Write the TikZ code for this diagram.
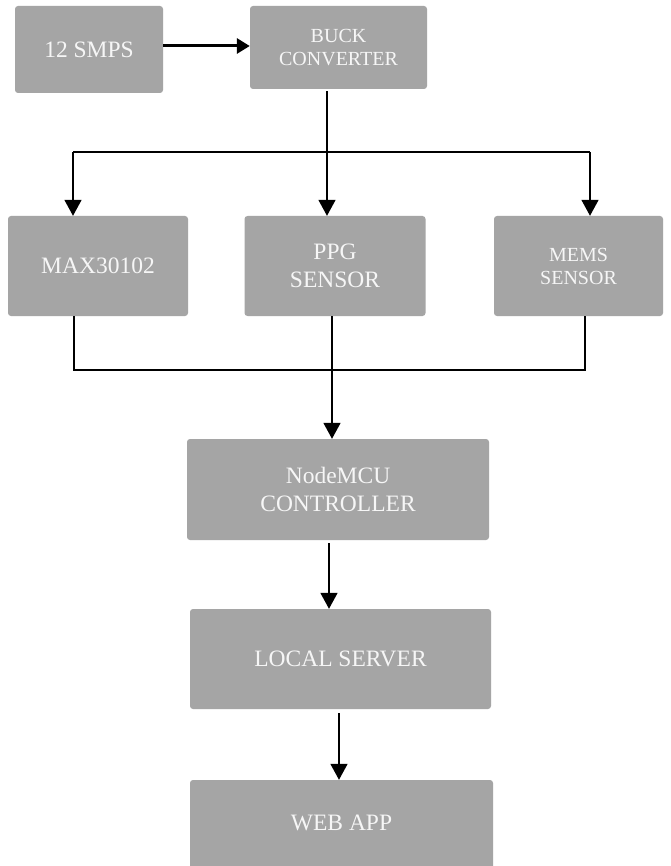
\documentclass[tikz,border=0pt]{standalone}
\usepackage{fontspec}
\setmainfont{Liberation Serif}
\usetikzlibrary{arrows.meta}
\definecolor{boxgray}{HTML}{A5A5A5}
\definecolor{boxtext}{HTML}{F6F6F6}
\tikzset{
  blk/.style={fill=boxgray, rounded corners=3pt, text=boxtext, align=center, inner sep=0pt,
    font=\fontsize{23.5}{27.5}\selectfont},
  smallblk/.style={blk, font=\fontsize{20}{23}\selectfont},
  conn/.style={line width=1.6pt, draw=black},
  arr/.style={conn, -{Triangle[width=17pt,length=16pt]}},
  bigarr/.style={line width=3pt, -{Triangle[width=15pt,length=13pt]}}
}
\begin{document}
\begin{tikzpicture}[x=1pt,y=1pt]
\clip (0,0) rectangle (670,-866);
\fill[white] (0,0) rectangle (670,-866);
% blocks
\node[blk, minimum width=148pt, minimum height=87pt] (smps) at (89,-49.5) {12 SMPS};
\node[smallblk, minimum width=177pt, minimum height=83pt] (buck) at (338.5,-47.5) {BUCK\\CONVERTER};
\node[blk, minimum width=180pt, minimum height=100pt] (max) at (98,-266) {MAX30102};
\node[blk, minimum width=181pt, minimum height=100pt] (ppg) at (335,-266) {PPG\\SENSOR};
\node[smallblk, minimum width=169pt, minimum height=100pt] (mems) at (578.5,-266) {MEMS\\SENSOR};
\node[blk, minimum width=302pt, minimum height=101pt] (mcu) at (338,-489.5) {NodeMCU\\CONTROLLER};
\node[blk, minimum width=301pt, minimum height=100pt] (srv) at (340.5,-659) {LOCAL SERVER};
\node[blk, minimum width=303pt, minimum height=100pt] (web) at (341.5,-830) {};
\node[blk] (webt) at (341.5,-823) {WEB APP};
% junctions
\coordinate (ya) at (0,-46);
\coordinate (jt) at (327,-152);
\coordinate (jl) at (73,-152);
\coordinate (jr) at (590,-152);
\coordinate (bl) at (74,-370);
\coordinate (bm) at (332,-370);
\coordinate (br) at (585,-370);
\coordinate (xm) at (329,0);
\coordinate (xs) at (339,0);
% connectors
\draw[bigarr] (smps.east |- ya) -- (buck.west |- ya);
\draw[conn, shorten <=2pt] (buck.south -| jt) -- (jt);
\draw[conn] (jl) -- (jr);
\draw[arr] (jl) -- (max.north -| jl);
\draw[arr] (jt) -- (ppg.north -| jt);
\draw[arr] (jr) -- (mems.north -| jr);
\draw[conn] (max.south -| bl) -- (bl) -- (br) -- (mems.south -| br);
\draw[conn] (ppg.south -| bm) -- (bm);
\draw[arr] (bm) -- (mcu.north -| bm);
\draw[arr, shorten <=3pt] (mcu.south -| xm) -- (srv.north -| xm);
\draw[arr, shorten <=4pt] (srv.south -| xs) -- (web.north -| xs);
\end{tikzpicture}
\end{document}
